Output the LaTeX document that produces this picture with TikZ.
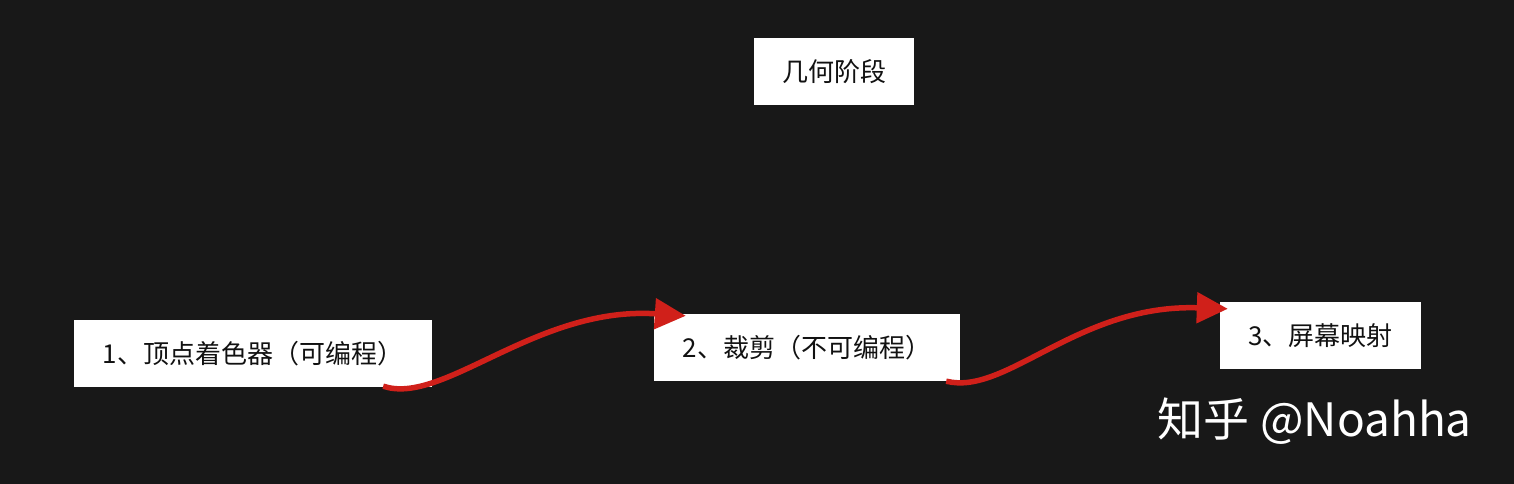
\documentclass[tikz,border=0pt]{standalone}
\usepackage{fontspec}
\newfontfamily\cjk{Noto Sans CJK SC}
\usetikzlibrary{arrows.meta,calc}
\definecolor{bg}{HTML}{181818}
\definecolor{ink}{HTML}{111111}
\definecolor{arrred}{HTML}{D0201A}
\tikzset{
  box/.style={fill=white, draw=none, inner sep=0pt, font=\cjk\fontsize{26}{30}\selectfont, text=ink},
  arr/.style={draw=arrred, line width=5.5pt, -{Triangle[length=31pt,width=30pt]}},
}
\begin{document}
\begin{tikzpicture}[x=1pt,y=-1pt]
\fill[bg] (0,0) rectangle (1514,484);
\useasboundingbox (0,0) rectangle (1514,484);
\node[box, minimum width=160pt, minimum height=67pt] (t) at (834,71.5) {几何阶段};
\node[box, minimum width=358pt, minimum height=67pt] (b1) at (253,353.5) {1、顶点着色器（可编程）};
\node[box, minimum width=306pt, minimum height=67pt] (b2) at (807,347.5) {2、裁剪（不可编程）};
\node[box, minimum width=201pt, minimum height=67pt] (b3) at (1320.5,335.5) {3、屏幕映射};
\coordinate (s1) at ($(b1.south east)+(-49,-1)$);
\coordinate (e1) at ($(b2.north west)+(32,2)$);
\coordinate (s2) at ($(b2.south east)+(-14,0)$);
\coordinate (e2) at ($(b3.north west)+(8,7)$);
\draw[arr] (s1) .. controls ($(s1)+(60,20)$) and ($(e1)+(-150,-10)$) .. (e1);
\draw[arr] (s2) .. controls ($(s2)+(60,15)$) and ($(e2)+(-150,-5)$) .. (e2);
\node[font=\cjk\fontsize{46}{52}\selectfont, text=white, anchor=base east, inner sep=0pt] (w) at (1472,436) {知乎 @Noahha};
\end{tikzpicture}
\end{document}
